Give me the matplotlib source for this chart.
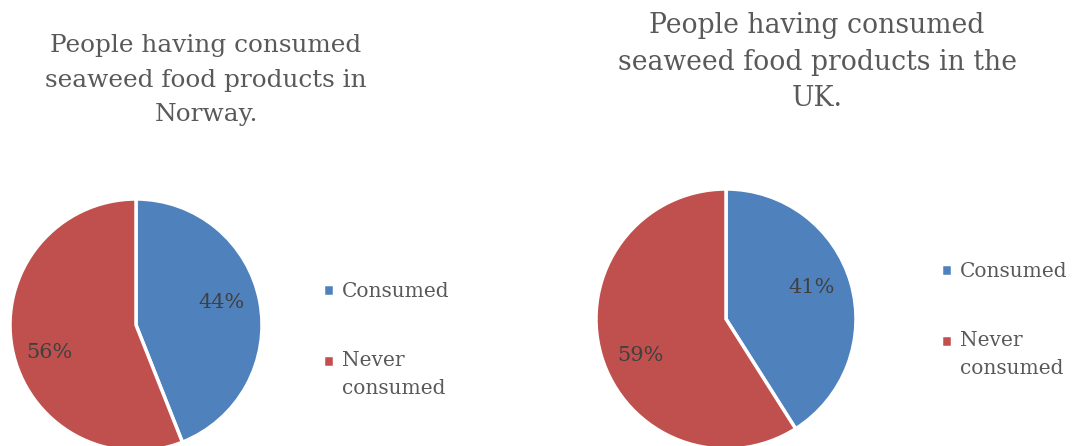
import numpy as np
import matplotlib
matplotlib.use("Agg")
import matplotlib.pyplot as plt

# data
categories = ["Consumed", "Never\nconsumed"]
norway_values = [44, 56]
uk_values = [41, 59]
titles = [
    "People having consumed\nseaweed food products in\nNorway.",
    "People having consumed\nseaweed food products in the\nUK.",
]

colors = ["#4F81BD", "#C0504D"]
text_grey = "#595959"
label_grey = "#404040"
plt.rcParams["font.family"] = ["DejaVu Serif"]

W, H = 1074, 446
fig = plt.figure(figsize=(W / 100, H / 100), dpi=100)


def px_axes(cx, cy, r):
    # axes box from pixel centre / radius (y measured from the top)
    return fig.add_axes([(cx - r) / W, (H - cy - r) / H, 2 * r / W, 2 * r / H])


panels = [
    (norway_values, titles[0], (136, 325, 126), (206, 80, 17.8, 1.62), (323, 282)),
    (uk_values, titles[1], (726, 319, 130), (817, 62, 19.2, 1.47), (941, 262)),
]

for values, title, (cx, cy, r), (tx, ty, tsize, tls), (lx, ly) in panels:
    ax = px_axes(cx, cy, r)
    wedges, _, autotexts = ax.pie(
        values, colors=colors, startangle=90, counterclock=False,
        autopct=lambda p: f"{p:.0f}%", pctdistance=0.7, radius=1,
        wedgeprops=dict(edgecolor="white", linewidth=2.5),
        textprops=dict(color=label_grey, fontsize=15),
    )
    # nudge labels toward Excel's best-fit spots
    for w, t, dang, dist in zip(wedges, autotexts, [4, 7], [0.7, 0.72]):
        ang = np.deg2rad((w.theta1 + w.theta2) / 2 + dang)
        t.set_position((dist * np.cos(ang), dist * np.sin(ang)))
    ax.set_xlim(-1, 1)
    ax.set_ylim(-1, 1)
    ax.set_axis_off()
    fig.text(tx / W, 1 - ty / H, title, ha="center", va="center",
             fontsize=tsize, color=text_grey, linespacing=tls)
    leg = fig.legend(wedges, categories, loc="upper left",
                     bbox_to_anchor=(lx / W, 1 - ly / H), frameon=False,
                     fontsize=14.5, labelcolor=text_grey, handlelength=0.55,
                     handleheight=0.55, handletextpad=0.4, labelspacing=2.5,
                     borderpad=0, borderaxespad=0)
    for t in leg.get_texts():
        t.set_linespacing(1.55)
    # square sits next to the first line of the two-line label
    h = leg.legend_handles[1]
    h.set_y(h.get_y() + 10)

fig.savefig("out.png", dpi=100)
